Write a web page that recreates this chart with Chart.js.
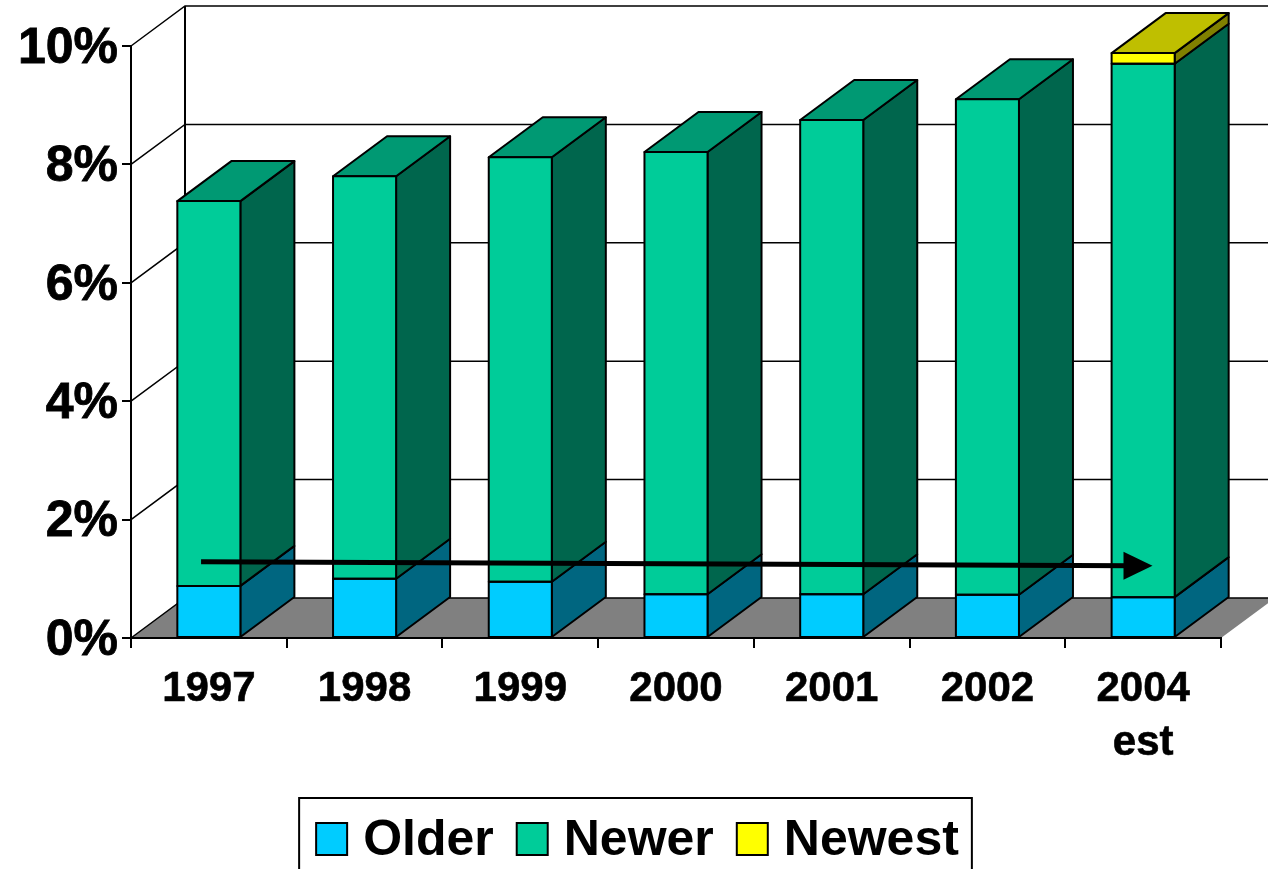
<!DOCTYPE html>
<html>
<head>
<meta charset="utf-8">
<style>html,body{margin:0;padding:0;background:#fff;overflow:hidden}canvas{display:block}</style>
<script src="https://cdn.jsdelivr.net/npm/chart.js@4"></script>
</head>
<body>
<canvas id="c" width="1268" height="869"></canvas>
<script>
const categories = ['1997','1998','1999','2000','2001','2002',['2004','est']];
const older = [0.88,1.00,0.95,0.74,0.74,0.73,0.69];
const newer = [6.50,6.80,7.17,7.47,8.01,8.37,9.01];
const newest = [0,0,0,0,0,0,0.18];
const seriesNames = ['Older','Newer','Newest'];
const frontColors = ['#00CCFF','#00CC99','#FFFF00'];
const sideColors = ['#006680','#00664D','#808000'];
const topColors = ['#009ABF','#009973','#BFBF00'];
const tickValues = [0,2,4,6,8,10];
const arrowStart = [-0.05,1.29];
const arrowEnd = [6.06,1.22];
const DX = 54, DY = -40;
const FONT = '"Liberation Sans", Arial, sans-serif';

function poly(ctx, pts, fill) {
  ctx.beginPath();
  pts.forEach((p,i)=> i ? ctx.lineTo(p[0],p[1]) : ctx.moveTo(p[0],p[1]));
  ctx.closePath();
  if (fill) { ctx.fillStyle = fill; ctx.fill(); }
  ctx.strokeStyle = '#000'; ctx.lineWidth = 2; ctx.stroke();
}
const depth3d = {
  id:'depth3d',
  afterLayout(chart){
    chart.legend.left += 27;
    chart.legend.right += 27;
  },
  beforeDraw(chart){
    const {ctx, scales:{x,y}} = chart;
    const L=x.left, R=x.right, B=y.bottom;
    ctx.save();
    ctx.fillStyle='#fff'; ctx.fillRect(0,0,chart.width,chart.height);
    ctx.strokeStyle='#000'; ctx.lineWidth=1.5;
    tickValues.forEach(v=>{
      const p=y.getPixelForValue(v);
      if (v===0) return;
      ctx.beginPath(); ctx.moveTo(L,p); ctx.lineTo(L+DX,p+DY); ctx.lineTo(R+DX,p+DY); ctx.stroke();
    });
    ctx.lineWidth=2;
    ctx.beginPath(); ctx.moveTo(L+DX,y.top+DY); ctx.lineTo(L+DX,B+DY); ctx.stroke();
    ctx.beginPath();
    ctx.moveTo(L,B); ctx.lineTo(R,B); ctx.lineTo(R+DX,B+DY); ctx.lineTo(L+DX,B+DY); ctx.closePath();
    ctx.fillStyle='#808080'; ctx.fill();
    ctx.lineWidth=1.5;
    ctx.beginPath(); ctx.moveTo(L,B); ctx.lineTo(L+DX,B+DY); ctx.lineTo(R+DX,B+DY); ctx.stroke();
    ctx.restore();
  },
  beforeDatasetsDraw(chart){
    const ctx=chart.ctx;
    ctx.save();
    ctx.lineJoin='round';
    categories.forEach((_,j)=>{
      let topIdx=-1;
      seriesNames.forEach((_,i)=>{
        const bar=chart.getDatasetMeta(i).data[j];
        if (Math.abs(bar.base-bar.y)<0.5) return;
        topIdx=i;
        const r=bar.x+bar.width/2;
        poly(ctx,[[r,bar.base],[r+DX,bar.base+DY],[r+DX,bar.y+DY],[r,bar.y]],sideColors[i]);
      });
      const bar=chart.getDatasetMeta(topIdx).data[j];
      const l=bar.x-bar.width/2, r=bar.x+bar.width/2;
      poly(ctx,[[l,bar.y],[r,bar.y],[r+DX,bar.y+DY],[l+DX,bar.y+DY]],topColors[topIdx]);
    });
    ctx.restore();
  },
  afterDatasetsDraw(chart){
    const {ctx, scales:{x,y}} = chart;
    ctx.save();
    ctx.lineJoin='round';
    categories.forEach((_,j)=>{
      seriesNames.forEach((_,i)=>{
        const bar=chart.getDatasetMeta(i).data[j];
        if (Math.abs(bar.base-bar.y)<0.5) return;
        const l=bar.x-bar.width/2, r=bar.x+bar.width/2;
        poly(ctx,[[l,bar.base],[r,bar.base],[r,bar.y],[l,bar.y]],null);
      });
    });
    const x0=x.getPixelForValue(arrowStart[0]), y0=y.getPixelForValue(arrowStart[1]);
    const x1=x.getPixelForValue(arrowEnd[0]), y1=y.getPixelForValue(arrowEnd[1]);
    ctx.strokeStyle='#000'; ctx.fillStyle='#000'; ctx.lineWidth=5;
    ctx.beginPath(); ctx.moveTo(x0,y0); ctx.lineTo(x1-20,y1); ctx.stroke();
    ctx.beginPath(); ctx.moveTo(x1,y1); ctx.lineTo(x1-29,y1-14); ctx.lineTo(x1-29,y1+14); ctx.closePath(); ctx.fill();
    ctx.restore();
  },
  afterDraw(chart){
    const {ctx, legend} = chart;
    const hb=legend.legendHitBoxes;
    ctx.save();
    ctx.strokeStyle='#000'; ctx.lineWidth=2;
    const first=hb[0], last=hb[hb.length-1];
    const left=first.left-17, right=last.left+last.width+13, top=first.top-18;
    ctx.strokeRect(left,top,right-left,chart.height+20-top);
    hb.forEach((b,i)=>{
      ctx.fillStyle=frontColors[i];
      ctx.fillRect(b.left,b.top+b.height/2-18,31,32);
      ctx.strokeRect(b.left,b.top+b.height/2-18,31,32);
    });
    ctx.restore();
  }
};
new Chart(document.getElementById('c'),{
  type:'bar',
  data:{
    labels:categories,
    datasets:[older,newer,newest].map((d,i)=>({
      label:seriesNames[i],data:d,backgroundColor:frontColors[i],
      borderWidth:0,
      categoryPercentage:1,barPercentage:0.405
    }))
  },
  options:{
    responsive:false,animation:false,
    layout:{padding:{left:0,right:47,top:46,bottom:-7}},
    plugins:{
      tooltip:{enabled:false},
      legend:{
        position:'bottom',
        labels:{
          boxWidth:22,boxHeight:32,padding:23,color:'#000',
          font:{family:FONT,size:50,weight:'bold'},
          generateLabels:()=>seriesNames.map((n,i)=>({text:n,fillStyle:'rgba(0,0,0,0)',strokeStyle:'rgba(0,0,0,0)',lineWidth:0,datasetIndex:i,fontColor:'#000'}))
        }
      }
    },
    scales:{
      x:{
        stacked:true,
        afterFit:s=>{s.height=155;},
        border:{color:'#000',width:2},
        grid:{drawOnChartArea:false,drawTicks:true,tickLength:10,color:'#000',lineWidth:2,offset:true},
        ticks:{color:'#000',padding:14,maxRotation:0,autoSkip:false,textStrokeColor:'#000',textStrokeWidth:0.6,font:{family:FONT,size:42,weight:'bold',lineHeight:1.3}}
      },
      y:{
        stacked:true,min:0,max:10,
        afterFit:s=>{s.width=131;},
        border:{color:'#000',width:2},
        grid:{drawOnChartArea:false,drawTicks:true,tickLength:9,color:'#000',lineWidth:2},
        ticks:{color:'#000',padding:4,stepSize:2,labelOffset:3,textStrokeColor:'#000',textStrokeWidth:0.8,callback:v=>v+'%',font:{family:FONT,size:50,weight:'bold'}}
      }
    }
  },
  plugins:[depth3d]
});
</script>
</body>
</html>
